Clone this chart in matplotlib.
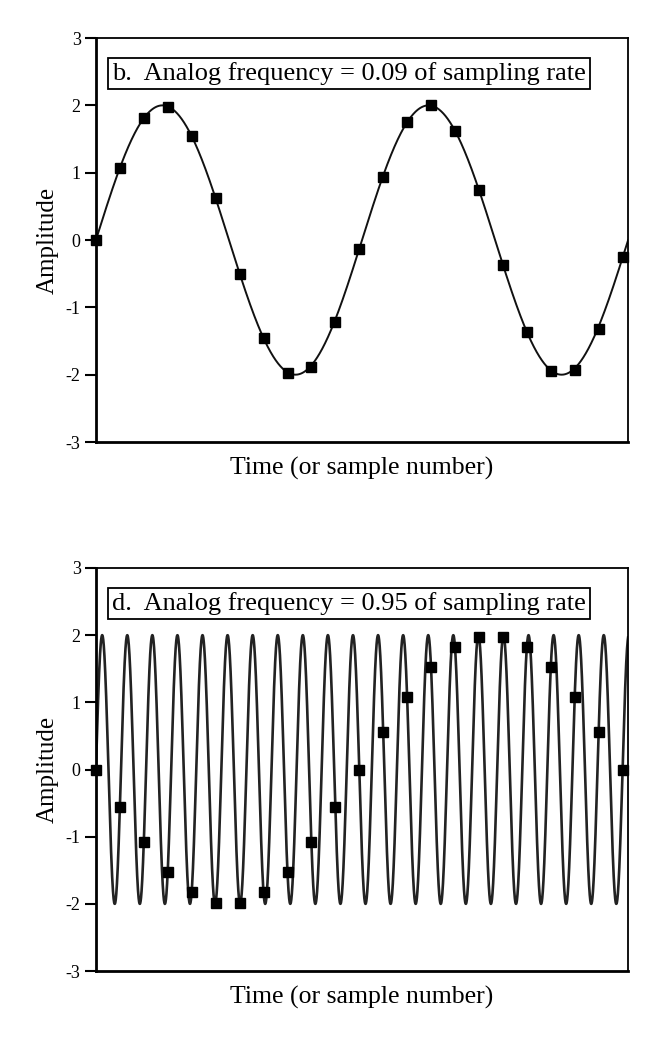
import numpy as np
import matplotlib
matplotlib.use("Agg")
import matplotlib.pyplot as plt

plt.rcParams['font.family'] = ['Liberation Serif', 'DejaVu Serif']

# sample values (sample number 0..22)
sample_n = list(range(23))
samples_b = [0.0, 1.07, 1.81, 1.98, 1.54, 0.62, -0.50, -1.46, -1.97, -1.88, -1.22,
             -0.13, 0.94, 1.75, 2.0, 1.62, 0.74, -0.37, -1.37, -1.94, -1.93, -1.32, -0.25]
samples_d = [0.0, -0.56, -1.08, -1.52, -1.82, -1.98, -1.98, -1.82, -1.52, -1.08, -0.56,
             0.0, 0.56, 1.08, 1.52, 1.82, 1.98, 1.98, 1.82, 1.52, 1.08, 0.56, 0.0]

# analog signal parameters (as labelled in the panels)
amplitude = 2.0
freq_b = 0.09
freq_d = 0.955
t_end = 22.22

labels = ["b.  Analog frequency = 0.09 of sampling rate",
          "d.  Analog frequency = 0.95 of sampling rate"]
yticks = [-3, -2, -1, 0, 1, 2, 3]

fig = plt.figure(figsize=(6.57, 10.42), dpi=100)
ax1 = fig.add_axes([0.146, 0.5758, 0.810, 0.3877])
ax2 = fig.add_axes([0.146, 0.0681, 0.810, 0.3868])

t = np.linspace(0, t_end, 4000)
panels = [(ax1, freq_b, samples_b, labels[0], 1.4, '#111111'),
          (ax2, freq_d, samples_d, labels[1], 1.9, '#222222')]

for ax, f, s, lab, lw, col in panels:
    ax.plot(t, amplitude * np.sin(2 * np.pi * f * t), color=col, lw=lw, zorder=2)
    ax.plot(sample_n, s, 's', color='black', ms=7.5, zorder=3, clip_on=False)
    ax.set_xlim(0, t_end)
    ax.set_ylim(-3, 3)
    ax.set_yticks(yticks)
    ax.set_yticklabels([str(v) for v in yticks], fontsize=13)
    ax.set_xticks([])
    ax.tick_params(axis='y', direction='out', length=8, width=1.5, pad=3)
    for side in ['left', 'bottom']:
        ax.spines[side].set_linewidth(2.0)
    for side in ['top', 'right']:
        ax.spines[side].set_linewidth(1.3)
    ax.set_ylabel('Amplitude', fontsize=18, labelpad=5)
    ax.set_xlabel('Time (or sample number)', fontsize=18.5, labelpad=11)
    ax.text(0.03, 0.913, lab, transform=ax.transAxes, fontsize=19,
            va='center', ha='left',
            bbox=dict(boxstyle='square,pad=0.15', fc='white', ec='black', lw=1.3))

fig.savefig('out.png', dpi=100)
